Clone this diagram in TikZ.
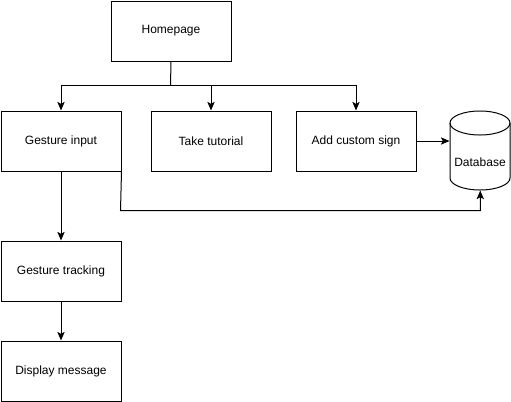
\documentclass[tikz,border=0pt]{standalone}
\usepackage{fontspec}
\setmainfont{Liberation Sans}
\usetikzlibrary{arrows.meta}
\begin{document}
\begin{tikzpicture}[x=0.75pt,y=-0.75pt,
  box/.style={draw, line width=0.75pt, minimum width=90pt, minimum height=45pt, inner sep=0pt, font=\fontsize{9pt}{11pt}\selectfont, anchor=north west},
  conn/.style={draw, line width=0.75pt, -{Stealth[length=6.5pt,width=5.5pt,inset=1.5pt]}},
  plain/.style={draw, line width=0.75pt}]
\useasboundingbox (0,0) rectangle (511,401);
\fill[white] (0,0) rectangle (511,401);
\node[box] (home) at (110.5,0.5) {Homepage};
\node[box] (gi) at (0.5,110.5) {Gesture input};
\node[box] (tt) at (150.5,110.5) {Take tutorial};
\node[box] (acs) at (295.5,110.5) {Add custom sign};
\node[box] (gt) at (0.5,240.5) {Gesture tracking};
\node[box] (dm) at (0.5,340.5) {Display message};
% database cylinder
\node[minimum width=45pt, minimum height=59.25pt, inner sep=0pt, anchor=north west] (db) at (450,111) {};
\draw[line width=0.75pt, fill=white] (450,123) -- (450,178) arc[start angle=180,end angle=0,x radius=30,y radius=12] -- (510,123) arc[start angle=360,end angle=180,x radius=30,y radius=12] -- cycle;
\draw[line width=0.75pt] (450,123) arc[start angle=180,end angle=0,x radius=30,y radius=12];
\node[font=\fontsize{9pt}{11pt}\selectfont] (dbt) at (480,162) {Database};
\coordinate (split) at (170.5,85.5);
\draw[plain] (home.south) -- (split);
\draw[conn] (split) -| (gi.north);
\draw[conn] (split) -| (tt.north);
\draw[conn] (split) -| (acs.north);
\draw[conn] (gi.south) -- (gt.north);
\draw[conn] (gt.south) -- (dm.north);
\draw[conn] (acs.east |- 0,141) -- (449.5,141);
\coordinate (c1) at (120.5,210.5);
\draw[conn] (gi.south east) -- (c1) -| (db.south);
\end{tikzpicture}
\end{document}
